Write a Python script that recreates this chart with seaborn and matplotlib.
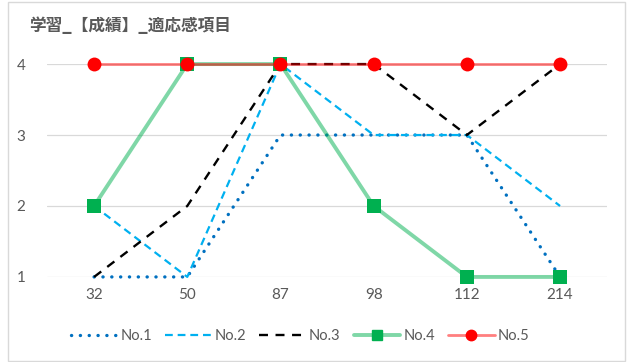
import numpy as np
import pandas as pd
import seaborn as sns
import matplotlib.pyplot as plt
from matplotlib.lines import Line2D
from matplotlib.patches import Rectangle

# data
categories = ["32", "50", "87", "98", "112", "214"]
no1 = [1, 1, 3, 3, 3, 1]
no2 = [2, 1, 4, 3, 3, 2]
no3 = [1, 2, 4, 4, 3, 4]
no4 = [2, 4, 4, 2, 1, 1]
no5 = [4, 4, 4, 4, 4, 4]

sns.set_theme(style="white")
plt.rcParams['font.family'] = ['Lato', 'Noto Sans CJK JP', 'DejaVu Sans']

df = pd.DataFrame({"pos": np.arange(len(categories)),
                   "No.1": no1, "No.2": no2, "No.3": no3, "No.4": no4, "No.5": no5})

fig = plt.figure(figsize=(6.29, 3.62), dpi=100)
ax = fig.add_axes([0.0755, 0.235, 0.889, 0.588])

# chart border
fig.patches.append(Rectangle((0.013, 0.004), 0.98, 0.99, transform=fig.transFigure,
                             fill=False, edgecolor="#D9D9D9", lw=1.0))

sns.lineplot(x="pos", y="No.1", data=df, ax=ax, color="#0070C0", lw=2.4,
             linestyle=(0, (0.05, 2.6)), dash_capstyle="round", clip_on=False, zorder=3)
sns.lineplot(x="pos", y="No.2", data=df, ax=ax, color="#00B0F0", lw=1.6,
             linestyle=(0, (3.5, 2.2)), clip_on=False, zorder=4)
sns.lineplot(x="pos", y="No.3", data=df, ax=ax, color="black", lw=1.7,
             linestyle=(0, (3.8, 3.2)), clip_on=False, zorder=5)
sns.lineplot(x="pos", y="No.4", data=df, ax=ax, color="#00B050", alpha=0.5, lw=2.8,
             clip_on=False, zorder=6)
sns.scatterplot(x="pos", y="No.4", data=df, ax=ax, color="#00B050", marker="s", s=90,
                linewidth=0, clip_on=False, zorder=7)
sns.lineplot(x="pos", y="No.5", data=df, ax=ax, color="#FF0000", alpha=0.5, lw=2.0,
             clip_on=False, zorder=8)
sns.scatterplot(x="pos", y="No.5", data=df, ax=ax, color="#FF0000", marker="o", s=100,
                linewidth=0, clip_on=False, zorder=9)

ax.set_xlim(-0.5, len(categories) - 0.5)
ax.set_ylim(1, 4)
ax.set_xticks(df["pos"])
ax.set_xticklabels(categories)
ax.set_yticks([1, 2, 3, 4])
ax.set_xlabel("")
ax.set_ylabel("")
ax.tick_params(axis="both", length=0, labelsize=11, labelcolor="#595959")
ax.tick_params(axis="x", pad=8)
ax.tick_params(axis="y", pad=16)
ax.grid(axis="y", color="#D9D9D9", lw=0.9)
ax.set_axisbelow(True)
for s in ax.spines.values():
    s.set_visible(False)
if ax.get_legend():
    ax.get_legend().remove()

fig.text(0.047, 0.928, "学習_【成績】_適応感項目", fontsize=12, fontweight="bold",
         color="#595959", va="center", ha="left", family="Noto Sans CJK JP")

handles = [
    Line2D([], [], color="#0070C0", lw=2.4, linestyle=(0, (0.05, 2.6)), dash_capstyle="round"),
    Line2D([], [], color="#00B0F0", lw=1.6, linestyle=(0, (3.5, 2.2))),
    Line2D([], [], color="black", lw=1.7, linestyle=(0, (3.8, 3.2))),
    Line2D([], [], color="#7FD7A7", lw=2.8, marker="s", markersize=6.5,
           markerfacecolor="#00B050", markeredgecolor="#00B050"),
    Line2D([], [], color="#FF7F7F", lw=2.0, marker="o", markersize=7.5,
           markerfacecolor="#FF0000", markeredgecolor="#FF0000"),
]
fig.legend(handles, ["No.1", "No.2", "No.3", "No.4", "No.5"], loc="center",
           bbox_to_anchor=(0.477, 0.072), ncol=5, frameon=False, fontsize=10.5,
           labelcolor="#595959", handlelength=3.2, handletextpad=0.2, columnspacing=0.9)

fig.savefig("out.png", dpi=100)
